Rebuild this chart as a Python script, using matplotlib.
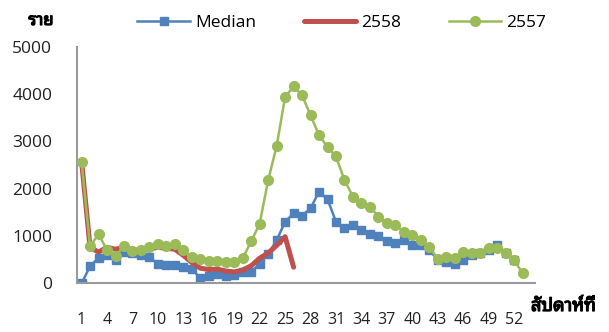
import matplotlib
matplotlib.use("Agg")
import matplotlib.pyplot as plt
import matplotlib.patheffects as pe

# weekly cases
median = [0, 360, 535, 600, 490, 660, 640, 600, 550, 410,
          390, 390, 350, 300, 110, 155, 195, 155, 180, 230,
          245, 410, 615, 910, 1300, 1480, 1430, 1585, 1935, 1775,
          1300, 1165, 1230, 1125, 1040, 1000, 895, 860, 915, 810,
          810, 700, 500, 455, 400, 495, 600, 630, 700, 800,
          630, 490]
y2558 = [2580, 760, 660, 760, 720, 760, 700, 700, 730, 760,
         740, 720, 590, 440, 320, 290, 300, 260, 240, 280,
         370, 530, 640, 800, 985, 340]
y2557 = [2570, 780, 1040, 700, 580, 780, 680, 700, 760, 820,
         790, 830, 700, 560, 510, 480, 480, 460, 440, 530,
         890, 1260, 2180, 2900, 3940, 4160, 3970, 3550, 3130, 2880,
         2680, 2180, 1830, 1690, 1620, 1410, 1270, 1230, 1090, 1020,
         910, 770, 510, 560, 530, 670, 650, 650, 740, 740,
         630, 490, 210]
week_ticks = list(range(1, 53, 3))

# Open Sans for latin/digits, looped Thai face for the Thai labels
plt.rcParams["font.family"] = ["Open Sans", "Noto Sans Thai Looped", "DejaVu Sans"]

fig = plt.figure(figsize=(6.09, 3.32), dpi=100)
ax = fig.add_axes([0.127, 0.1467, 0.752, 0.7126])

weeks = lambda s: list(range(1, len(s) + 1))
ax.plot(weeks(median), median, color="#4F81BD", lw=1.8, marker="s", ms=5.5,
        label="Median", zorder=2)
ax.plot(weeks(y2558), y2558, color="#C0504D", lw=3.6, label="2558",
        solid_capstyle="round", zorder=3)
ax.plot(weeks(y2557), y2557, color="#9BBB59", lw=1.8, marker="o", ms=7,
        label="2557", zorder=4)

ax.set_xlim(0.5, 54.5)
ax.set_ylim(0, 5000)
ax.set_yticks(range(0, 5001, 1000))
ax.set_xticks(week_ticks)
ax.tick_params(axis="y", length=0, pad=18, labelsize=12.5, colors="#222222")
ax.tick_params(axis="x", length=0, pad=21, labelsize=11.5, colors="#222222")
for side in ("top", "right"):
    ax.spines[side].set_visible(False)
for side in ("left", "bottom"):
    ax.spines[side].set_color("#9A9A9A")
    ax.spines[side].set_linewidth(1.5)

ax.legend(loc="center", bbox_to_anchor=(0.577, 1.10), ncol=3, frameon=False,
          fontsize=12.5, handlelength=3.0, handletextpad=0.3, columnspacing=2.75,
          borderaxespad=0)

# thai face has no heavy weight here, so thicken the glyphs with a stroke
bold = [pe.withStroke(linewidth=0.9, foreground="black")]
fig.text(41 / 609, 1 - 20 / 332, "ราย", ha="center", va="center",
         fontsize=12, fontweight="bold", path_effects=bold)
fig.text(531 / 609, 1 - 306 / 332, "สัปดาห์ที่", ha="left", va="center",
         fontsize=13, fontweight="bold", path_effects=bold)

fig.savefig("out.png", dpi=100)
